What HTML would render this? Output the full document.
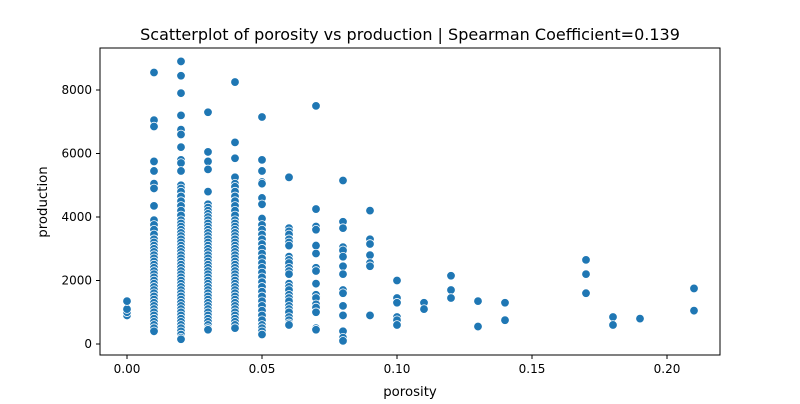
<!DOCTYPE html>
<html><head><meta charset="utf-8"><style>
body{margin:0;background:#fff;font-family:"DejaVu Sans","Liberation Sans",sans-serif}
svg text{font-family:"DejaVu Sans","Liberation Sans",sans-serif}
</style></head><body>
<svg id="c" width="800" height="400" xmlns="http://www.w3.org/2000/svg">
<rect width="800" height="400" fill="#fff"/>
<text x="410" y="40" text-anchor="middle" font-size="16">Scatterplot of porosity vs production | Spearman Coefficient=0.139</text>
<g id="pts"></g>
<rect x="100" y="48" width="620" height="307" fill="none" stroke="#000" stroke-width="1"/>
<g id="ax"></g>
<text x="410" y="396" text-anchor="middle" font-size="13.3">porosity</text>
<text transform="translate(47,202) rotate(-90)" text-anchor="middle" font-size="13.3">production</text>
</svg>
<script>
const xTicks=[0,0.05,0.10,0.15,0.20];
const xTickLabels=["0.00","0.05","0.10","0.15","0.20"];
const yTicks=[0,2000,4000,6000,8000];
const yTickLabels=["0","2000","4000","6000","8000"];
const col000=[900,1000,1100,1350];
const col001=[8550,7050,6850,5750,5450,5050,4900,4350,3900,3750,3600,3450,3300,3200,3100,3000,2900,2800,2700,2600,2500,2400,2300,2200,2100,2000,1900,1800,1700,1600,1500,1400,1300,1200,1100,1000,900,800,700,600,500,400];
const col002=[8900,8450,7900,7200,6750,6600,6200,5800,5700,5450,5000,4900,4800,4650,4500,4350,4200,4050,3900,3800,3700,3600,3500,3400,3300,3200,3100,3000,2900,2800,2700,2600,2500,2400,2300,2200,2100,2000,1900,1800,1700,1600,1500,1400,1300,1200,1100,1000,900,800,700,600,500,400,300,200,150];
const col003=[7300,6050,5750,5500,4800,4400,4300,4200,4100,4000,3900,3800,3700,3600,3500,3400,3300,3200,3100,3000,2900,2800,2700,2600,2500,2400,2300,2200,2100,2000,1900,1800,1700,1600,1500,1400,1300,1200,1100,1000,900,800,700,600,500,450];
const col004=[8250,6350,5850,5250,5050,4950,4800,4650,4500,4350,4200,4050,3900,3800,3700,3600,3500,3400,3300,3200,3100,3000,2900,2800,2700,2600,2500,2400,2300,2200,2100,2000,1900,1800,1700,1600,1500,1400,1300,1200,1100,1000,900,800,700,600,500];
const col005=[7150,5800,5450,5100,5050,4600,4400,3950,3750,3600,3450,3300,3150,3000,2850,2700,2550,2400,2250,2100,1950,1800,1650,1500,1350,1200,1050,900,750,600,500,400,300];
const col006=[5250,3650,3550,3450,3300,3200,3100,2750,2650,2550,2400,2300,2200,1900,1800,1700,1550,1450,1350,1200,1100,1000,850,750,650,600];
const col007=[7500,4250,3700,3600,3100,2850,2400,2300,1900,1550,1450,1250,1150,1000,500,450];
const col008=[5150,3850,3650,3050,2950,2750,2450,2200,1700,1600,1200,900,400,200,100];
const other=[[0.09,4200],[0.09,3300],[0.09,3150],[0.09,2800],[0.09,2550],[0.09,2450],[0.09,900],
[0.10,2000],[0.10,1450],[0.10,1300],[0.10,850],[0.10,750],[0.10,600],[0.11,1300],[0.11,1100],
[0.12,2150],[0.12,1700],[0.12,1450],[0.13,1350],[0.13,550],[0.14,1300],[0.14,750],
[0.17,2650],[0.17,2200],[0.17,1600],[0.18,850],[0.18,600],[0.19,800],[0.21,1750],[0.21,1050]];
const NS="http://www.w3.org/2000/svg";
const sx=v=>127+v*2700;
const sy=v=>344-v*0.03175;
const cols=[[0,col000],[0.01,col001],[0.02,col002],[0.03,col003],[0.04,col004],[0.05,col005],[0.06,col006],[0.07,col007],[0.08,col008]];
const data=[];
cols.forEach(([x,arr])=>arr.forEach(y=>data.push([x,y])));
other.forEach(p=>data.push(p));
const g=document.getElementById('pts');
data.forEach(([x,y])=>{
  const c=document.createElementNS(NS,'circle');
  c.setAttribute('cx',sx(x));c.setAttribute('cy',sy(y));c.setAttribute('r',4.3);
  c.setAttribute('fill','#1f77b4');c.setAttribute('stroke','#fff');c.setAttribute('stroke-width','0.8');
  
  
  g.appendChild(c);
});
const ax=document.getElementById('ax');
xTicks.forEach((t,i)=>{
  const l=document.createElementNS(NS,'line');
  l.setAttribute('x1',sx(t));l.setAttribute('x2',sx(t));l.setAttribute('y1',355);l.setAttribute('y2',359);l.setAttribute('stroke','#000');
  
  
  ax.appendChild(l);
  const tx=document.createElementNS(NS,'text');
  tx.setAttribute('x',sx(t));tx.setAttribute('y',373);tx.setAttribute('text-anchor','middle');tx.setAttribute('font-size','12');
  tx.textContent=xTickLabels[i];
  
  
  ax.appendChild(tx);
});
yTicks.forEach((t,i)=>{
  const l=document.createElementNS(NS,'line');
  l.setAttribute('x1',96);l.setAttribute('x2',100);l.setAttribute('y1',sy(t));l.setAttribute('y2',sy(t));l.setAttribute('stroke','#000');
  
  
  ax.appendChild(l);
  const tx=document.createElementNS(NS,'text');
  tx.setAttribute('x',92);tx.setAttribute('y',sy(t)+4);tx.setAttribute('text-anchor','end');tx.setAttribute('font-size','12');
  tx.textContent=yTickLabels[i];
  
  
  ax.appendChild(tx);
});
</script>
</body></html>
